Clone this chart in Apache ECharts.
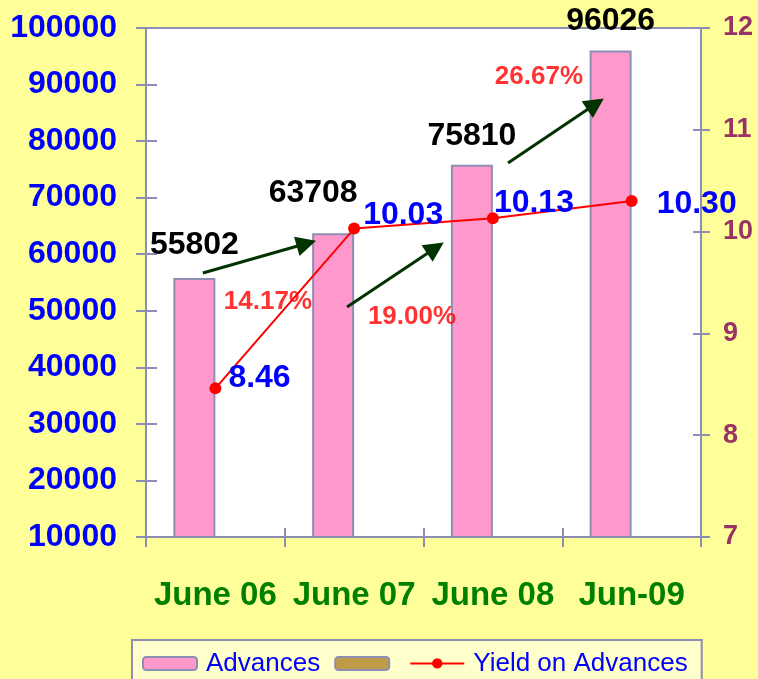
<!DOCTYPE html>
<html>
<head>
  <title>Advances and Yield</title>
  <script src="https://cdn.jsdelivr.net/npm/echarts@6/dist/echarts.min.js"></script>
  <style>
    html, body { margin: 0; padding: 0; background: #FFFF99; }
  </style>
</head>
<body>
  <div id="main" style="width: 758px; height: 679px;"></div>

  <script>
    const categories = ['June 06', 'June 07', 'June 08', 'Jun-09'];
    const advances = [55802, 63708, 75810, 96026];
    const yieldOnAdvances = [8.46, 10.03, 10.13, 10.30];
    const otherValues = [null, null, null, null];
    const leftTicks = { min: 10000, max: 100000, interval: 10000 };
    const rightTicks = { min: 7, max: 12, interval: 1 };

    // growth arrows and labels, in (category position, advances) units
    const growthRates = ['14.17%', '19.00%', '26.67%'];
    const growthLabelAt = [[0.879, 51550], [1.917, 48900], [2.832, 91330]];
    const arrows = [
      [[0.41, 56680], [1.156, 61890]],
      [[1.449, 50660], [2.086, 61100]],
      [[2.609, 76120], [3.240, 86550]]
    ];

    // label nudges to sit like the original
    const barLabelOffsets = [[0, 0], [-20, -8], [0, 4], [0, 3]];
    const lineLabelOffsets = [[7, -10], [3, -13], [-5, -15], [19, 3]];

    const axisColor = '#8E8EB4';
    const font = 'Liberation Sans, Arial, sans-serif';

    const chart = echarts.init(document.getElementById('main'));
    const option = {
      backgroundColor: '#FFFF99',
      textStyle: { fontFamily: font },
      grid: {
        left: 146, right: 57, top: 28, bottom: 142,
        show: true, backgroundColor: '#FFFFFF',
        borderColor: axisColor, borderWidth: 2
      },
      legend: {
        data: ['Advances', { name: ' ', textStyle: { fontSize: 4, padding: 0 } }, 'Yield on Advances'],
        left: 132, top: 640,
        padding: [1, 14, 12, 10],
        backgroundColor: '#FFFFCC',
        borderColor: axisColor, borderWidth: 2,
        itemWidth: 54, itemHeight: 13, itemGap: 14,
        textStyle: { color: '#0000FF', fontSize: 26, fontFamily: font, padding: [0, 0, 0, 4] }
      },
      xAxis: [
        {
          type: 'category', data: categories, position: 'bottom',
          axisLine: { onZero: false, lineStyle: { color: axisColor, width: 2 } },
          axisTick: { show: true, length: 10, lineStyle: { color: axisColor, width: 2 } },
          axisLabel: { interval: 0, color: '#008000', fontWeight: 'bold', fontSize: 33, margin: 30, fontFamily: font }
        },
        { type: 'value', min: 0, max: 4, show: false, position: 'top' },
        {
          type: 'category', data: categories, position: 'bottom',
          axisLine: { show: false },
          axisTick: { show: true, inside: true, length: 9, lineStyle: { color: axisColor, width: 2 } },
          axisLabel: { show: false }
        }
      ],
      yAxis: [
        {
          type: 'value', position: 'left', ...leftTicks,
          splitLine: { show: false },
          axisLine: { show: true, onZero: false, lineStyle: { color: axisColor, width: 2 } },
          axisTick: { show: true, length: 10, lineStyle: { color: axisColor, width: 2 } },
          axisLabel: {
            formatter: v => String(v),
            color: '#0000FF', fontWeight: 'bold', fontSize: 32, margin: 29, fontFamily: font
          }
        },
        {
          type: 'value', position: 'right', ...rightTicks,
          splitLine: { show: false },
          axisLine: { show: true, onZero: false, lineStyle: { color: axisColor, width: 2 } },
          axisTick: { show: true, length: 9, lineStyle: { color: axisColor, width: 2 } },
          axisLabel: { color: '#993366', fontWeight: 'bold', fontSize: 27, margin: 22, fontFamily: font }
        },
        {
          type: 'value', position: 'left', ...leftTicks,
          splitLine: { show: false }, axisLine: { show: false }, axisLabel: { show: false },
          axisTick: { show: true, inside: true, length: 11, lineStyle: { color: axisColor, width: 2 } }
        },
        {
          type: 'value', position: 'right', ...rightTicks,
          splitLine: { show: false }, axisLine: { show: false }, axisLabel: { show: false },
          axisTick: { show: true, inside: true, length: 8, lineStyle: { color: axisColor, width: 2 } }
        }
      ],
      series: [
        {
          name: 'Advances',
          type: 'bar',
          barWidth: 42, barGap: 0,
          itemStyle: { color: '#FF99CC', borderColor: axisColor, borderWidth: 2 },
          data: advances.map((v, i) => ({
            value: v,
            label: {
              show: true, position: 'top', offset: barLabelOffsets[i],
              color: '#000000', fontWeight: 'bold', fontSize: 32, fontFamily: font
            }
          }))
        },
        {
          name: ' ',
          type: 'bar',
          barWidth: 42, barGap: 0,
          itemStyle: { color: '#C09B48', borderColor: axisColor, borderWidth: 2 },
          data: otherValues
        },
        {
          name: 'Yield on Advances',
          type: 'line',
          yAxisIndex: 1,
          symbol: 'circle', symbolSize: 12,
          lineStyle: { color: '#FF0000', width: 2 },
          itemStyle: { color: '#FF0000' },
          z: 5,
          data: yieldOnAdvances.map((v, i) => ({
            value: v,
            label: {
              show: true, position: 'right', distance: 0, offset: lineLabelOffsets[i],
              formatter: v.toFixed(2),
              color: '#0000FF', fontWeight: 'bold', fontSize: 32, fontFamily: font
            }
          }))
        },
        {
          name: 'arrows',
          type: 'lines',
          coordinateSystem: 'cartesian2d',
          xAxisIndex: 1, yAxisIndex: 0,
          symbol: ['none', 'triangle'], symbolSize: 20,
          lineStyle: { color: '#003300', width: 3, opacity: 1 },
          z: 4,
          data: arrows.map(a => ({ coords: a }))
        },
        {
          name: 'growth',
          type: 'scatter',
          xAxisIndex: 1, yAxisIndex: 0,
          symbolSize: 0,
          z: 6,
          label: {
            show: true, position: 'inside',
            formatter: p => growthRates[p.dataIndex],
            color: '#FF0000', fontWeight: 'bold', fontSize: 26, fontFamily: font
          },
          data: growthLabelAt
        }
      ]
    };
    chart.setOption(option);
  </script>
</body>
</html>
